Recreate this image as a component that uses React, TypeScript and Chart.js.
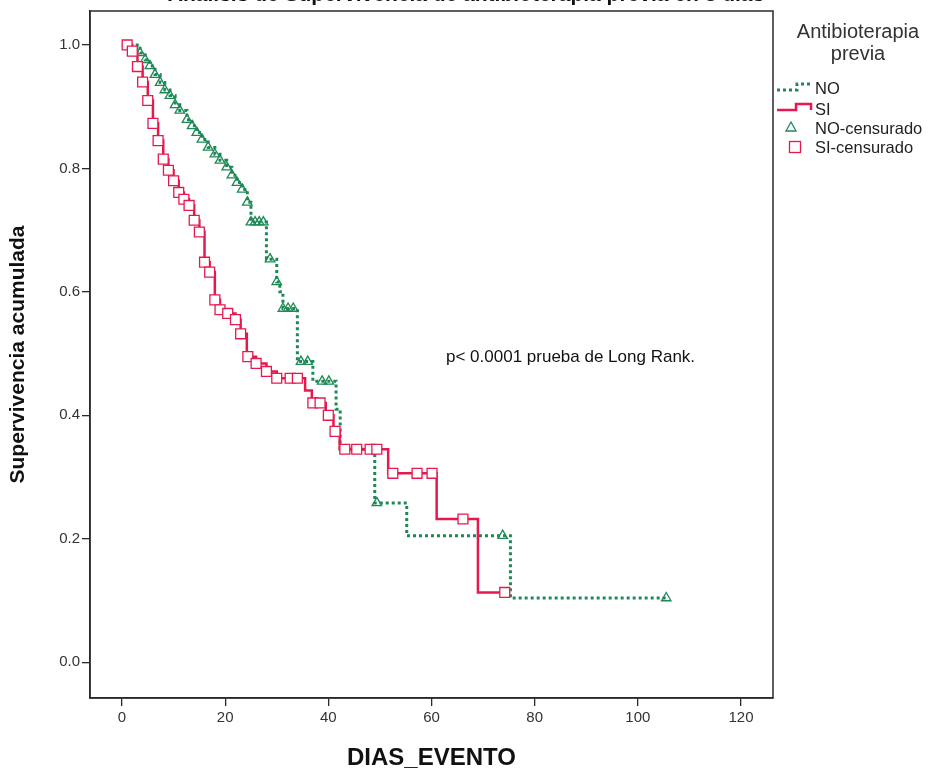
import React, { useEffect, useRef } from 'react';
import { Chart, registerables } from 'chart.js';

Chart.register(...registerables);

// ---- text ----
const chartTitle = 'Análisis de Supervivencia de antibioterapia previa en 3 días';
const xAxisTitle = 'DIAS_EVENTO';
const yAxisTitle = 'Supervivencia acumulada';
const legendTitle = ['Antibioterapia', 'previa'];
const seriesNames = ['NO', 'SI', 'NO-censurado', 'SI-censurado'];
const annotationText = 'p< 0.0001 prueba de Long Rank.';

// ---- axis ticks ----
const xTicks = [0, 20, 40, 60, 80, 100, 120];
const yTicks = [0, 0.2, 0.4, 0.6, 0.8, 1.0];

// ---- Kaplan-Meier steps, group NO (time in days, survival after the step) ----
const noTimes = [
  1.5, 3.5, 4.5, 5.4, 6.4, 7.4, 8.3, 9.3, 10.3, 11.2, 12.6, 13.6, 14.5, 15.5, 16.7,
  18, 19, 20.3, 21.3, 22.3, 23.3, 24.3, 25, 28, 30, 30.6, 31.2, 34, 37, 41.5, 42.3,
  49, 55.2, 75.3, 105.5,
];
const noSurvival = [
  1.0, 0.987, 0.976, 0.966, 0.952, 0.939, 0.927, 0.918, 0.903, 0.894, 0.879, 0.869, 0.858, 0.847, 0.834,
  0.823, 0.813, 0.802, 0.789, 0.777, 0.766, 0.745, 0.713, 0.653, 0.616, 0.6, 0.573, 0.487, 0.455, 0.41, 0.345,
  0.258, 0.205, 0.104, 0.104,
];
const noCensorTimes = [
  3.5, 4.5, 5.4, 6.4, 7.4, 8.3, 9.3, 10.3, 11.2, 12.6, 13.6, 14.5, 15.5, 16.7, 18, 19,
  20.3, 21.3, 22.3, 23.3, 24.3, 25, 25.8, 26.6, 27.4, 28.7, 30, 31.2, 32.2, 33.2,
  34.7, 36, 38.8, 40.1, 49.4, 73.8, 105.5,
];

// ---- Kaplan-Meier steps, group SI ----
const siTimes = [
  1, 2, 3, 4, 5, 6, 7, 8, 9, 10, 11, 12, 13, 14, 15, 16, 17, 18, 19, 20.5, 22, 23, 24.2,
  26, 28, 30, 35.5, 36.8, 39.5, 41, 42.2, 51.6, 61, 69, 74.2,
];
const siSurvival = [
  1.0, 0.99, 0.965, 0.94, 0.91, 0.873, 0.845, 0.815, 0.797, 0.78, 0.761, 0.75, 0.74, 0.716, 0.697,
  0.648, 0.632, 0.587, 0.571, 0.565, 0.555, 0.532, 0.495, 0.484, 0.471, 0.46, 0.44, 0.42, 0.4, 0.374,
  0.345, 0.306, 0.232, 0.113, 0.113,
];
const siCensorTimes = [
  1, 2, 3, 4, 5, 6, 7, 8, 9, 10, 11, 12, 13, 14, 15, 16, 17, 18, 19, 20.5, 22, 23, 24.4,
  26, 28, 30, 32.6, 34, 37, 38.4, 40, 41.3, 43.2, 45.5, 48.1, 49.4, 52.5, 57.2, 60.1, 66.1, 74.2,
];

const GREEN = '#1d8a56';
const RED = '#e5194d';
const FONT = "'Liberation Sans', Arial, sans-serif";

// survival value of a step curve at time t
function survivalAt(times: number[], surv: number[], t: number): number {
  let s = surv[0];
  for (let i = 0; i < times.length; i++) {
    if (times[i] <= t + 1e-9) s = surv[i];
  }
  return s;
}

const decorations = {
  id: 'kmDecorations',
  afterDraw(chart: any) {
    const { ctx, chartArea } = chart;
    ctx.save();

    // frame around the plot
    ctx.strokeStyle = '#2a2a2a';
    ctx.lineWidth = 1.5;
    ctx.setLineDash([]);
    ctx.strokeRect(chartArea.left, chartArea.top, chartArea.right - chartArea.left, chartArea.bottom - chartArea.top);

    // title (runs off the top edge)
    ctx.fillStyle = '#111';
    ctx.font = `bold 21px ${FONT}`;
    ctx.textAlign = 'center';
    ctx.textBaseline = 'alphabetic';
    ctx.fillText(chartTitle, 466, 1);

    // log-rank note
    ctx.font = `17px ${FONT}`;
    ctx.textAlign = 'left';
    ctx.textBaseline = 'middle';
    ctx.fillStyle = '#111';
    ctx.fillText(annotationText, 446, 357);

    // legend
    ctx.fillStyle = '#333';
    ctx.font = `20px ${FONT}`;
    ctx.textAlign = 'center';
    ctx.fillText(legendTitle[0], 858, 32);
    ctx.fillText(legendTitle[1], 858, 54);

    // NO: dotted step
    ctx.strokeStyle = GREEN;
    ctx.lineWidth = 3;
    ctx.setLineDash([3, 3]);
    ctx.beginPath();
    ctx.moveTo(777, 90);
    ctx.lineTo(797, 90);
    ctx.lineTo(797, 84);
    ctx.lineTo(812, 84);
    ctx.stroke();

    // SI: solid step
    ctx.strokeStyle = RED;
    ctx.lineWidth = 2.5;
    ctx.setLineDash([]);
    ctx.beginPath();
    ctx.moveTo(777, 110);
    ctx.lineTo(796, 110);
    ctx.lineTo(796, 104);
    ctx.lineTo(811, 104);
    ctx.lineTo(811, 110);
    ctx.stroke();

    // NO-censurado: triangle
    ctx.strokeStyle = GREEN;
    ctx.lineWidth = 1.3;
    ctx.beginPath();
    ctx.moveTo(791, 122);
    ctx.lineTo(796, 131);
    ctx.lineTo(786, 131);
    ctx.closePath();
    ctx.stroke();

    // SI-censurado: square
    ctx.strokeStyle = RED;
    ctx.lineWidth = 1.3;
    ctx.strokeRect(789.5, 141.5, 11, 11);

    ctx.fillStyle = '#222';
    ctx.font = `16.5px ${FONT}`;
    ctx.textAlign = 'left';
    ctx.fillText(seriesNames[0], 815, 89);
    ctx.fillText(seriesNames[1], 815, 110);
    ctx.fillText(seriesNames[2], 815, 129);
    ctx.fillText(seriesNames[3], 815, 148);

    ctx.restore();
  },
};

export default function App() {
  const canvasRef = useRef<HTMLCanvasElement | null>(null);

  useEffect(() => {
    const canvas = canvasRef.current;
    if (!canvas) return;

    const noLine = noTimes.map((t, i) => ({ x: t, y: noSurvival[i] }));
    const siLine = siTimes.map((t, i) => ({ x: t, y: siSurvival[i] }));
    const noCensored = noCensorTimes.map((t) => ({ x: t, y: survivalAt(noTimes, noSurvival, t) }));
    const siCensored = siCensorTimes.map((t) => ({ x: t, y: survivalAt(siTimes, siSurvival, t) }));

    const chart = new Chart(canvas, {
      type: 'scatter',
      data: {
        datasets: [
          {
            label: seriesNames[3],
            data: siCensored,
            showLine: false,
            pointStyle: 'rect',
            pointRadius: 7,
            pointBorderWidth: 1.3,
            pointBorderColor: RED,
            pointBackgroundColor: '#ffffff',
            order: 0,
          },
          {
            label: seriesNames[2],
            data: noCensored,
            showLine: false,
            pointStyle: 'triangle',
            pointRadius: 5.5,
            pointBorderWidth: 1.3,
            pointBorderColor: GREEN,
            pointBackgroundColor: 'rgba(255,255,255,0)',
            order: 1,
          },
          {
            label: seriesNames[1],
            data: siLine,
            showLine: true,
            stepped: 'before',
            borderColor: RED,
            borderWidth: 2.5,
            pointRadius: 0,
            fill: false,
            order: 2,
          },
          {
            label: seriesNames[0],
            data: noLine,
            showLine: true,
            stepped: 'before',
            borderColor: GREEN,
            borderWidth: 3,
            borderDash: [3, 3],
            pointRadius: 0,
            fill: false,
            order: 3,
          },
        ],
      },
      options: {
        responsive: false,
        animation: false,
        layout: { padding: { left: 0, right: 161, top: 9, bottom: 0 } },
        plugins: {
          legend: { display: false },
          tooltip: { enabled: false },
          title: { display: false },
        },
        scales: {
          x: {
            type: 'linear',
            min: -6.2,
            max: 126.2,
            afterBuildTicks: (scale: any) => {
              scale.ticks = xTicks.map((v) => ({ value: v }));
            },
            afterFit: (scale: any) => {
              scale.height = 79;
            },
            ticks: {
              color: '#333',
              font: { family: FONT, size: 15 },
              padding: 3,
              maxRotation: 0,
              callback: (v: any) => String(v),
            },
            grid: { drawOnChartArea: false, drawTicks: true, tickLength: 8, color: '#2a2a2a', lineWidth: 1.3 },
            border: { display: true, color: '#2a2a2a', width: 1.5 },
            title: {
              display: true,
              text: xAxisTitle,
              color: '#111',
              font: { family: FONT, size: 24, weight: 'bold' },
              padding: { top: 12 },
            },
          },
          y: {
            type: 'linear',
            min: -0.058,
            max: 1.055,
            afterBuildTicks: (scale: any) => {
              scale.ticks = yTicks.map((v) => ({ value: v }));
            },
            afterFit: (scale: any) => {
              scale.width = 90;
            },
            ticks: {
              color: '#333',
              font: { family: FONT, size: 15 },
              padding: 2,
              callback: (v: any) => Number(v).toFixed(1),
            },
            grid: { drawOnChartArea: false, drawTicks: true, tickLength: 8, color: '#2a2a2a', lineWidth: 1.3 },
            border: { display: true, color: '#2a2a2a', width: 1.5 },
            title: {
              display: true,
              text: yAxisTitle,
              color: '#111',
              font: { family: FONT, size: 21, weight: 'bold' },
              padding: { top: 6, bottom: 0 },
            },
          },
        },
      },
      plugins: [decorations],
    });

    return () => chart.destroy();
  }, []);

  return (
    <div style={{ position: 'absolute', left: 0, top: 0, width: 934, height: 777, background: '#fff' }}>
      <canvas ref={canvasRef} width={934} height={777} style={{ display: 'block' }} />
    </div>
  );
}
